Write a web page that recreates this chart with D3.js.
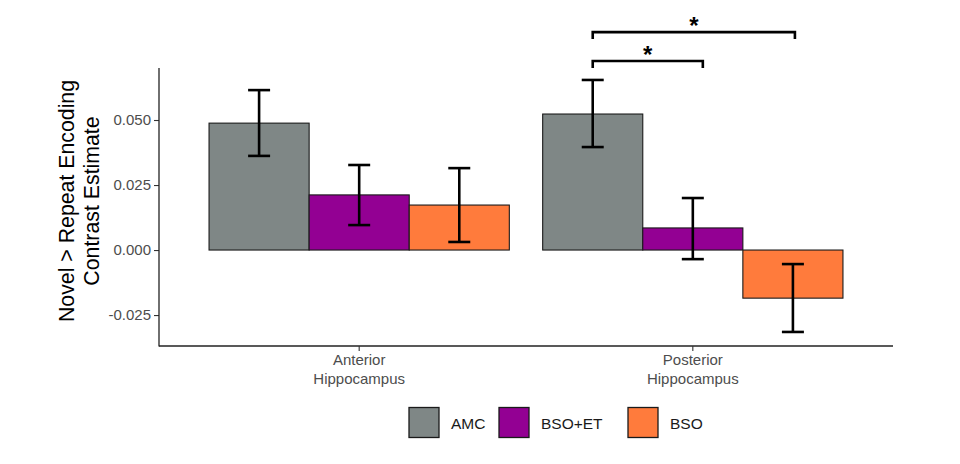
<!DOCTYPE html>
<html>
<head>
<meta charset="utf-8">
<script src="https://cdn.jsdelivr.net/npm/d3@7"></script>
<style>
  body { margin: 0; background: #fff; }
  svg { display: block; }
  text { font-family: "Liberation Sans", Arial, sans-serif; }
</style>
</head>
<body>
<svg id="chart" width="960" height="464"></svg>
<script>
// ---- data ----
const regions = ["Anterior\nHippocampus", "Posterior\nHippocampus"];
const groups = ["AMC", "BSO+ET", "BSO"];
const groupColors = ["#7f8786", "#930093", "#ff7b3c"];
const anteriorMeans = [0.0488, 0.0212, 0.0173];
const anteriorLower = [0.0362, 0.0096, 0.0031];
const anteriorUpper = [0.0615, 0.0327, 0.0315];
const posteriorMeans = [0.0523, 0.0085, -0.0185];
const posteriorLower = [0.0396, -0.0035, -0.0315];
const posteriorUpper = [0.0654, 0.0200, -0.0054];
const yTicks = [-0.025, 0, 0.025, 0.05];
const yTitle = ["Novel > Repeat Encoding", "Contrast Estimate"];
// significance brackets: region index, start group, end group, end nudge (bar widths), height
const bracketRegion = [1, 1];
const bracketFrom = ["AMC", "AMC"];
const bracketTo = ["BSO+ET", "BSO"];
const bracketEndNudge = [0.1, 0.02];
const bracketY = [0.0727, 0.0838];
const bracketLabel = ["*", "*"];

const rows = [];
[[anteriorMeans, anteriorLower, anteriorUpper], [posteriorMeans, posteriorLower, posteriorUpper]]
  .forEach((arr, ri) => groups.forEach((g, gi) => rows.push({
    region: regions[ri], group: g, mean: arr[0][gi], lo: arr[1][gi], hi: arr[2][gi]
  })));

// ---- layout ----
const svg = d3.select("#chart");
const pL = 159, pR = 893, pT = 68, pB = 346;

// emulate ggplot discrete expansion: 0.6 units on each side, bar group width 0.9
const x = d3.scaleLinear().domain([0.4, 2.6]).range([pL, pR]);
const unit = x(2) - x(1);
const center = r => x(1 + regions.indexOf(r));
const xg = d3.scaleBand().domain(groups).range([-0.45 * unit, 0.45 * unit]);
const y = d3.scaleLinear().domain([-0.0369, 0.07]).range([pB, pT]);
const color = d3.scaleOrdinal().domain(groups).range(groupColors);

// bars
svg.append("g").selectAll("rect").data(rows).join("rect")
  .attr("x", d => center(d.region) + xg(d.group))
  .attr("width", xg.bandwidth())
  .attr("y", d => y(Math.max(0, d.mean)))
  .attr("height", d => Math.abs(y(d.mean) - y(0)))
  .attr("fill", d => color(d.group))
  .attr("stroke", "#1a1a1a").attr("stroke-width", 1.1);

// error bars
const capW = 22;
const eb = svg.append("g").attr("stroke", "#000").attr("stroke-width", 2.6).attr("fill", "none");
rows.forEach(d => {
  const cx = center(d.region) + xg(d.group) + xg.bandwidth() / 2;
  eb.append("line").attr("x1", cx).attr("x2", cx).attr("y1", y(d.lo)).attr("y2", y(d.hi));
  eb.append("line").attr("x1", cx - capW / 2).attr("x2", cx + capW / 2).attr("y1", y(d.lo)).attr("y2", y(d.lo));
  eb.append("line").attr("x1", cx - capW / 2).attr("x2", cx + capW / 2).attr("y1", y(d.hi)).attr("y2", y(d.hi));
});

// axes
const fmt = d3.format(".3f");
const yAxis = d3.axisLeft(y).tickValues(yTicks).tickSize(5).tickPadding(3)
  .tickFormat(d => d < 0 ? "-" + fmt(-d) : fmt(d));
const gy = svg.append("g").attr("transform", `translate(${pL},0)`).call(yAxis);
gy.select(".domain").remove();
gy.selectAll(".tick line").attr("stroke", "#333").attr("stroke-width", 1.1);
gy.selectAll(".tick text").attr("fill", "#4d4d4d").attr("font-size", 15);
svg.append("line").attr("x1", pL).attr("x2", pL).attr("y1", pT).attr("y2", pB + 0.5)
  .attr("stroke", "#222").attr("stroke-width", 1.3);
svg.append("line").attr("x1", pL).attr("x2", pR).attr("y1", pB).attr("y2", pB)
  .attr("stroke", "#222").attr("stroke-width", 1.3);

// x ticks and labels
regions.forEach(r => {
  const cx = center(r);
  svg.append("line").attr("x1", cx).attr("x2", cx).attr("y1", pB).attr("y2", pB + 5)
    .attr("stroke", "#333").attr("stroke-width", 1.1);
  const t = svg.append("text").attr("x", cx).attr("y", pB + 19).attr("text-anchor", "middle")
    .attr("fill", "#4d4d4d").attr("font-size", 15);
  r.split("\n").forEach((line, i) => t.append("tspan").attr("x", cx).attr("dy", i ? 19 : 0).text(line));
});

// y title
const yt = svg.append("text").attr("transform", `translate(74,201) rotate(-90)`)
  .attr("text-anchor", "middle").attr("fill", "#000").attr("font-size", 21.3);
yTitle.forEach((line, i) => yt.append("tspan").attr("x", 0).attr("dy", i ? 24.5 : 0).text(line));

// significance brackets
const gx = (ri, g) => center(regions[ri]) + xg(g) + xg.bandwidth() / 2;
bracketY.forEach((by, i) => {
  const x1 = gx(bracketRegion[i], bracketFrom[i]);
  const x2 = gx(bracketRegion[i], bracketTo[i]) + bracketEndNudge[i] * xg.bandwidth();
  const yy = y(by), drop = 7;
  svg.append("path")
    .attr("d", `M${x1},${yy + drop}V${yy}H${x2}V${yy + drop}`)
    .attr("fill", "none").attr("stroke", "#000").attr("stroke-width", 2.6);
  svg.append("text").attr("x", (x1 + x2) / 2).attr("y", yy + 2)
    .attr("text-anchor", "middle").attr("font-size", 24).attr("font-weight", "bold")
    .attr("fill", "#000").text(bracketLabel[i]);
});

// legend
const legX = [409, 499, 628];
const lg = svg.append("g");
groups.forEach((g, i) => {
  lg.append("rect").attr("x", legX[i]).attr("y", 407.5).attr("width", 30).attr("height", 30)
    .attr("fill", groupColors[i]).attr("stroke", "#1a1a1a").attr("stroke-width", 1.3);
  lg.append("text").attr("x", legX[i] + 42).attr("y", 429).attr("font-size", 15.5)
    .attr("fill", "#1a1a1a").text(g);
});
</script>
</body>
</html>
